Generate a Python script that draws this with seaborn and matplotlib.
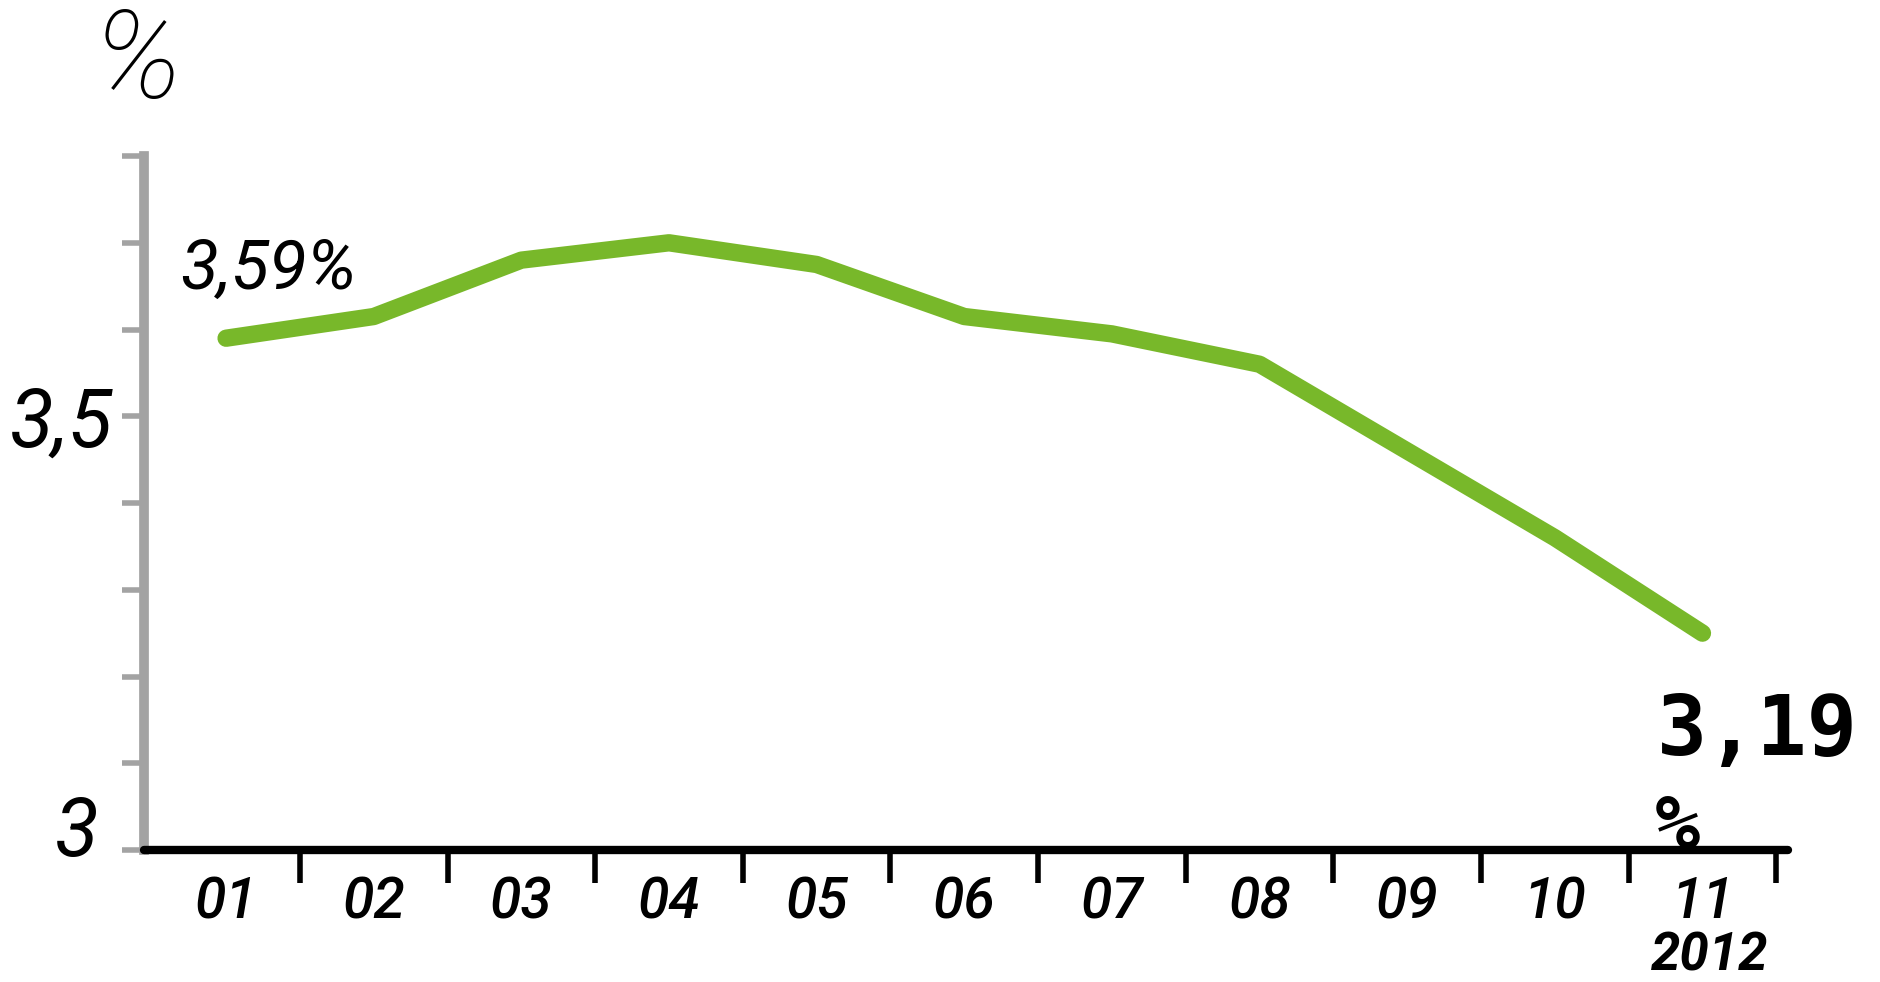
import numpy as np
import pandas as pd
import matplotlib
matplotlib.use('Agg')
import matplotlib.pyplot as plt
import matplotlib.transforms as mtransforms
import seaborn as sns

# ---- data ----
months = ['01', '02', '03', '04', '05', '06', '07', '08', '09', '10', '11']
rate = [3.59, 3.615, 3.68, 3.70, 3.675, 3.615, 3.595, 3.56, 3.46, 3.36, 3.25]
year_label = '2012'
y_ticks = [3.0, 3.1, 3.2, 3.3, 3.4, 3.5, 3.6, 3.7, 3.8]
y_tick_labels = ['3', '', '', '', '', '3,5', '', '', '']
start_label = '3,59%'
end_value_label = '3,19'
end_unit_label = '%'
unit_label = '%'

sns.set_theme(style='white')
plt.rcParams['font.family'] = ['Roboto', 'DejaVu Sans']

df = pd.DataFrame({'pos': np.arange(len(months)), 'rate': rate})

fig = plt.figure(figsize=(18.8, 9.82), dpi=100)
fig.patch.set_facecolor('white')
ax = fig.add_axes([0.0766, 0.1344, 0.8745, 0.7067])
ax.set_facecolor('white')

green = '#78b82a'
sns.lineplot(data=df, x='pos', y='rate', ax=ax, color=green, linewidth=12.5,
             solid_capstyle='round', solid_joinstyle='round', zorder=3)

ax.set_xlim(-0.556, 10.58)
ax.set_ylim(3.0, 3.8)
ax.set_xlabel('')
ax.set_ylabel('')

for s in ['top', 'right']:
    ax.spines[s].set_visible(False)
ax.spines['left'].set_color('#a3a3a3')
ax.spines['left'].set_linewidth(7)
ax.spines['bottom'].set_color('black')
ax.spines['bottom'].set_linewidth(6)
ax.spines['bottom'].set_zorder(4)
ax.spines['bottom'].set_capstyle('round')

# x axis: labels at month centres, tick marks between months
ax.set_xticks(df['pos'], labels=months)
ax.set_xticks(df['pos'] + 0.5, minor=True)
ax.tick_params(axis='x', which='major', length=0, pad=18, labelsize=41,
               labelcolor='black')
ax.tick_params(axis='x', which='minor', length=24, width=4, color='black',
               direction='out', bottom=True)
for lbl in ax.get_xticklabels():
    lbl.set_fontstyle('italic')
    lbl.set_fontweight('medium')

# y axis
ax.set_yticks(y_ticks, labels=y_tick_labels)
ax.tick_params(axis='y', which='major', length=16, width=4, color='#a3a3a3',
               direction='out', left=True, pad=6, labelsize=58, labelcolor='black')
for lbl in ax.get_yticklabels():
    lbl.set_fontstyle('italic')
# the "3" sits a little above the corner in the reference
lbl0 = ax.get_yticklabels()[0]
lbl0.set_transform(lbl0.get_transform() +
                   mtransforms.ScaledTranslation(-0.15, 0.25, fig.dpi_scale_trans))

# unit label above the y axis
fig.text(0.073, 0.935, unit_label, fontsize=88, fontstyle='italic',
         fontweight='light', ha='center', va='center', color='black')

# start value annotation
ax.annotate(start_label, xy=(df['pos'].iloc[0], df['rate'].iloc[0]),
            xytext=(42, 68), textcoords='offset pixels', ha='center', va='center',
            fontsize=50, fontstyle='italic', color='black')

# end value annotation (pixel-like monospace), value and unit on two lines
last_xy = (df['pos'].iloc[-1], df['rate'].iloc[-1])
ax.annotate(end_value_label, xy=last_xy,
            xytext=(-46, -58), textcoords='offset pixels', ha='left', va='top',
            fontsize=60, family=['DejaVu Sans Mono'], fontweight='bold',
            color='black', zorder=5, annotation_clip=False)
ax.annotate(end_unit_label, xy=last_xy,
            xytext=(-48, -232), textcoords='offset pixels', ha='left', va='bottom',
            fontsize=54, family=['DejaVu Sans Mono'], fontweight='bold',
            color='black', zorder=5, annotation_clip=False)

# year under the last month
ax.text(df['pos'].iloc[-1] + 0.05, -0.152, year_label, transform=ax.get_xaxis_transform(),
        ha='center', va='center', fontsize=38, fontstyle='italic', fontweight='bold',
        color='black')

fig.savefig('out.png', dpi=100, facecolor='white')
